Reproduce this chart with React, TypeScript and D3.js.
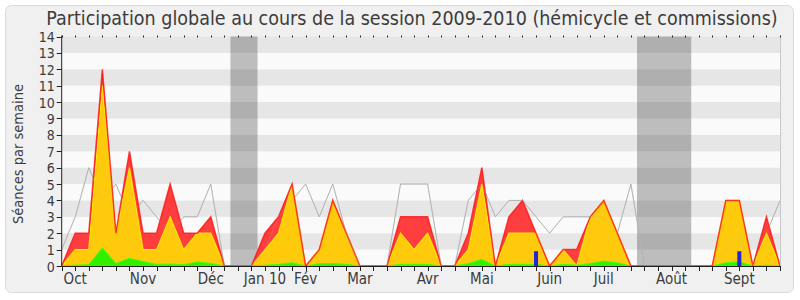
import React from "react";
import * as d3 from "d3";

const title = "Participation globale au cours de la session 2009-2010 (hémicycle et commissions)";
const yTitle = "Séances par semaine";

// weekly values, index 0..53
const total = [0,2,2,12,2,7,2,2,5,2,2,3,0,0,0,2,3,5,0,1,4,2,0,0,0,3,3,3,0,0,2,6,0,3,4,2,0,1,1,3,4,2,0,0,0,0,0,0,0,4,4,0,3,0];
const commission = [0,1,1,11,2,6,1,1,3,1,2,2,0,0,0,1,2,5,0,1,4,2,0,0,0,2,1,2,0,0,1,5,0,2,2,2,0,1,0,3,4,2,0,0,0,0,0,0,0,4,4,0,2,0];
const interventions = [0,0.05,0.08,1.1,0.16,0.47,0.27,0.1,0.12,0.08,0.25,0.16,0,0,0,0.05,0.1,0.2,0,0.15,0.15,0.1,0,0,0,0.1,0.1,0.1,0,0,0.15,0.4,0,0.1,0.1,0.1,0,0.1,0.05,0.15,0.3,0.2,0,0,0,0,0,0,0,0.2,0.25,0,0.05,0];
const median = [1,3,6,4,5,3,4,3,2,3,3,5,0,0,0,1,3,4,5,3,5,2,0,0,0,5,5,5,0,0,4,5,3,4,4,3,2,3,3,3,3,2,5,0,0,0,0,0,0,1,2,0,2,4];
const questionWeeks = [35, 50];
const questionValues = [0.9, 0.9];
const vacations: [number, number][] = [[12.45, 14.45], [42.45, 46.45]];
const monthLabels = ["Oct","Nov","Déc","Jan 10","Fév","Mar","Avr","Mai","Juin","Juil","Août","Sept"];
const monthWeeks = [1,6,11,15,18,22,27,31,36,40,45,50];
const yTicks = d3.range(0, 15);

export default function App() {
  const x0 = 61.7, x1 = 780, yTop = 36.5, yBot = 266;
  const n = total.length;
  const x = d3.scaleLinear().domain([0, n - 1]).range([x0, x1]);
  const y = d3.scaleLinear().domain([0, 14]).range([yBot, yTop]);
  const idx = d3.range(n);
  const area = (vals: number[]) =>
    d3.area<number>().x(i => x(i)).y0(yBot).y1(i => y(vals[i]))(idx) || "";
  const line = (vals: number[]) =>
    d3.line<number>().x(i => x(i)).y(i => y(vals[i]))(idx) || "";
  const font = "'DejaVu Sans Condensed', 'DejaVu Sans', sans-serif";
  const textCol = "#3c3c3c";
  return (
    <svg width={800} height={300} style={{ position: "absolute", left: 0, top: 0 }} fontFamily={font}>
      <rect x={0} y={0} width={800} height={300} fill="#ffffff" />
      <rect x={5.5} y={5.5} width={788} height={287} rx={6} fill="#f0f0f0" stroke="#dadada" />
      <text x={412} y={24.5} textAnchor="middle" fontSize={19.5} fill={textCol}>{title}</text>
      {/* plot background stripes */}
      {d3.range(0, 14).map(k => (
        <rect key={"s" + k} x={x0} y={y(k + 1)} width={x1 - x0 + 1} height={y(k) - y(k + 1)}
          fill={k % 2 === 1 ? "#e6e6e6" : "#fafafa"} />
      ))}
      {vacations.map(([a, b], k) => (
        <rect key={"v" + k} x={x(a)} y={yTop} width={x(b) - x(a)} height={yBot - yTop} fill="rgba(50,50,50,0.3)" />
      ))}
      <path d={line(median)} fill="none" stroke="#b4b4b4" strokeWidth={1} />
      <path d={area(total)} fill="#ff3535" opacity={0.95} />
      <path d={area(commission)} fill="#ffd20a" stroke="#ffee00" strokeWidth={1.2} opacity={0.95} />
      <path d={area(interventions)} fill="#33ee00" stroke="#44ff00" strokeWidth={1} />
      <path d={line(total)} fill="none" stroke="#ff1a1a" strokeWidth={1.5} opacity={0.85} />
      <path d={line(median)} fill="none" stroke="#b4b4b4" strokeWidth={1} opacity={0.25} />
      {questionWeeks.map((w, k) => (
        <rect key={"q" + k} x={x(w) - 2} y={y(questionValues[k])} width={4} height={yBot - y(questionValues[k])} fill="#2424dc" />
      ))}
      {/* right border */}
      <line x1={x1 + 0.5} x2={x1 + 0.5} y1={yTop} y2={yBot} stroke="#c8c8c8" />
      {/* axes */}
      <line x1={x0} x2={x0} y1={yTop - 1} y2={yBot} stroke="#222" />
      <line x1={x0} x2={x1 + 1} y1={yBot + 0.5} y2={yBot + 0.5} stroke="#222" />
      {yTicks.map(t => (
        <g key={"yt" + t}>
          <line x1={x0 - 5} x2={x0} y1={Math.round(y(t)) + 0.5} y2={Math.round(y(t)) + 0.5} stroke="#222" />
          <text x={x0 - 7} y={y(t) + 5.5} textAnchor="end" fontSize={14} fill={textCol}>{t}</text>
        </g>
      ))}
      {idx.map(i => (
        <g key={"xt" + i}>
          <line x1={Math.round(x(i)) + 0.5} x2={Math.round(x(i)) + 0.5} y1={yBot} y2={yBot + 5} stroke="#222" />
          <line x1={Math.round(x(i)) + 0.5} x2={Math.round(x(i)) + 0.5} y1={yTop - 1} y2={yTop + 1} stroke="#222" />
        </g>
      ))}
      {monthLabels.map((m, k) => (
        <text key={"m" + k} x={x(monthWeeks[k])} y={284} textAnchor="middle" fontSize={15} fill={textCol}>{m}</text>
      ))}
      <text transform={`translate(23,154) rotate(-90)`} textAnchor="middle" fontSize={14.5} fill={textCol}>{yTitle}</text>
    </svg>
  );
}
